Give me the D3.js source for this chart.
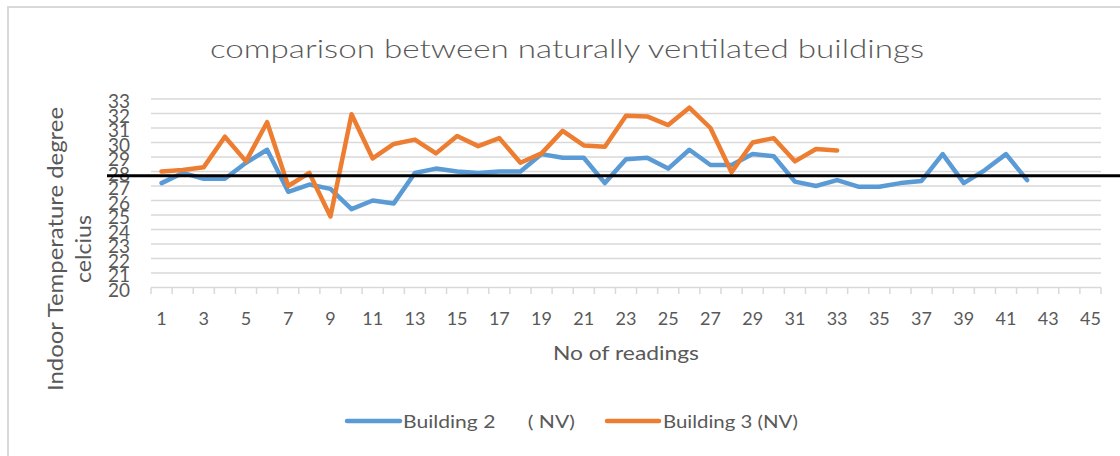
<!DOCTYPE html>
<html>
<head>
<meta charset="utf-8">
<script src="https://cdn.jsdelivr.net/npm/d3@7"></script>
<style>
  html, body { margin: 0; padding: 0; background: #fff; }
  svg { display: block; }
  text { font-family: Lato, "Open Sans", "DejaVu Sans", sans-serif; fill: #595959; }
</style>
</head>
<body>
<svg id="chart" width="1120" height="456"></svg>
<script>
// ---- data ----
const readings = d3.range(1, 46); // 1..45 categories
const xTickLabels = d3.range(1, 46, 2); // 1,3,...,45
const yTickLabels = d3.range(20, 34); // 20..33
const building2 = [27.2, 27.9, 27.5, 27.5, 28.6, 29.5, 26.6, 27.1, 26.8, 25.4,
  26.0, 25.8, 27.9, 28.2, 28.0, 27.9, 28.0, 28.0, 29.2, 28.95,
  28.95, 27.2, 28.85, 28.95, 28.2, 29.5, 28.45, 28.45, 29.2, 29.05,
  27.3, 27.0, 27.4, 26.95, 26.95, 27.2, 27.35, 29.2, 27.2, 28.1,
  29.2, 27.4];
const building3 = [28.0, 28.1, 28.3, 30.4, 28.7, 31.4, 27.0, 27.9, 24.9, 31.95,
  28.9, 29.9, 30.2, 29.25, 30.45, 29.75, 30.3, 28.6, 29.25, 30.8,
  29.8, 29.7, 31.85, 31.8, 31.2, 32.4, 31.0, 27.95, 30.0, 30.3,
  28.7, 29.55, 29.45];
const seriesNames = ["Building 2      ( NV)", "Building 3 (NV)"];
const seriesColors = ["#5b9bd5", "#ed7d31"];
const referenceLevel = 27.7;
const titleText = "comparison between naturally ventilated buildings";
const xTitle = "No of readings";
const yTitleLines = ["Indoor Temperature degree", "celcius"];

// ---- layout ----
const svg = d3.select("#chart");
const plot = { left: 151, right: 1101, top: 99, bottom: 287.5 };

// chart border
svg.append("rect").attr("x", 8).attr("y", 7).attr("width", 1130).attr("height", 460)
  .attr("fill", "none").attr("stroke", "#d9d9d9").attr("stroke-width", 2);

const x = d3.scaleBand().domain(readings).range([plot.left, plot.right]).padding(0);
const y = d3.scaleLinear().domain([20, 33]).range([plot.bottom, plot.top]);

// gridlines
svg.append("g").selectAll("line").data(yTickLabels.filter(v => v > 20)).join("line")
  .attr("x1", plot.left).attr("x2", plot.right)
  .attr("y1", d => y(d)).attr("y2", d => y(d))
  .attr("stroke", "#d9d9d9").attr("stroke-width", 1.5);

// x axis
const xAxis = svg.append("g").attr("transform", `translate(0,${plot.bottom})`);
xAxis.append("line").attr("x1", plot.left).attr("x2", plot.right)
  .attr("stroke", "#d9d9d9").attr("stroke-width", 1.5);
const bounds = readings.map(d => x(d)).concat([x(readings[readings.length - 1]) + x.bandwidth()]);
xAxis.selectAll("line.tick").data(bounds).join("line").attr("class", "tick")
  .attr("x1", d => d).attr("x2", d => d).attr("y1", 0).attr("y2", 6.5)
  .attr("stroke", "#d9d9d9").attr("stroke-width", 1.5);
xAxis.selectAll("text").data(xTickLabels).join("text")
  .attr("x", d => x(d) + x.bandwidth() / 2).attr("y", 30)
  .attr("text-anchor", "middle").attr("dominant-baseline", "central")
  .attr("font-size", 18).text(d => d);

// y axis labels (tight, overlapping like the original)
svg.append("g").selectAll("text").data(yTickLabels).join("text")
  .attr("x", 130).attr("y", d => y(d) + 1)
  .attr("text-anchor", "end").attr("dominant-baseline", "central")
  .attr("font-size", 20)
  .attr("textLength", 22).attr("lengthAdjust", "spacingAndGlyphs")
  .text(d => d);

// lines
const line = d3.line().x((d, i) => x(readings[i]) + x.bandwidth() / 2).y(d => y(d));
[building2, building3].forEach((s, k) => {
  svg.append("path").datum(s).attr("d", line)
    .attr("fill", "none").attr("stroke", seriesColors[k]).attr("stroke-width", 4.5)
    .attr("stroke-linejoin", "round").attr("stroke-linecap", "round");
});

// black reference line
svg.append("line").attr("x1", 107).attr("x2", 1120)
  .attr("y1", y(referenceLevel)).attr("y2", y(referenceLevel))
  .attr("stroke", "#000").attr("stroke-width", 3);

// title
svg.append("text").attr("x", 567).attr("y", 58).attr("text-anchor", "middle")
  .attr("font-size", 26).attr("font-weight", 300)
  .attr("textLength", 714).attr("lengthAdjust", "spacingAndGlyphs")
  .text(titleText);

// x title
svg.append("text").attr("x", 626).attr("y", 360).attr("text-anchor", "middle")
  .attr("font-size", 20).attr("textLength", 146).attr("lengthAdjust", "spacingAndGlyphs")
  .text(xTitle);

// y title
const yLens = [284, 68];
const yXs = [63, 91];
yTitleLines.forEach((t, i) => {
  svg.append("text").attr("transform", `translate(${yXs[i]},249) rotate(-90)`)
    .attr("text-anchor", "middle").attr("font-size", 21)
    .attr("textLength", yLens[i]).attr("lengthAdjust", "spacingAndGlyphs")
    .text(t);
});

// legend
const legend = [
  { x1: 347, x2: 400, tx: 403, len: 172 },
  { x1: 607, x2: 659, tx: 663, len: 135 }
];
legend.forEach((l, i) => {
  svg.append("line").attr("x1", l.x1).attr("x2", l.x2).attr("y1", 421).attr("y2", 421)
    .attr("stroke", seriesColors[i]).attr("stroke-width", 4.5).attr("stroke-linecap", "round");
  svg.append("text").attr("x", l.tx).attr("y", 421).attr("dominant-baseline", "central")
    .attr("font-size", 17).style("white-space", "pre")
    .attr("textLength", l.len).attr("lengthAdjust", "spacingAndGlyphs")
    .text(seriesNames[i]);
});
</script>
</body>
</html>
